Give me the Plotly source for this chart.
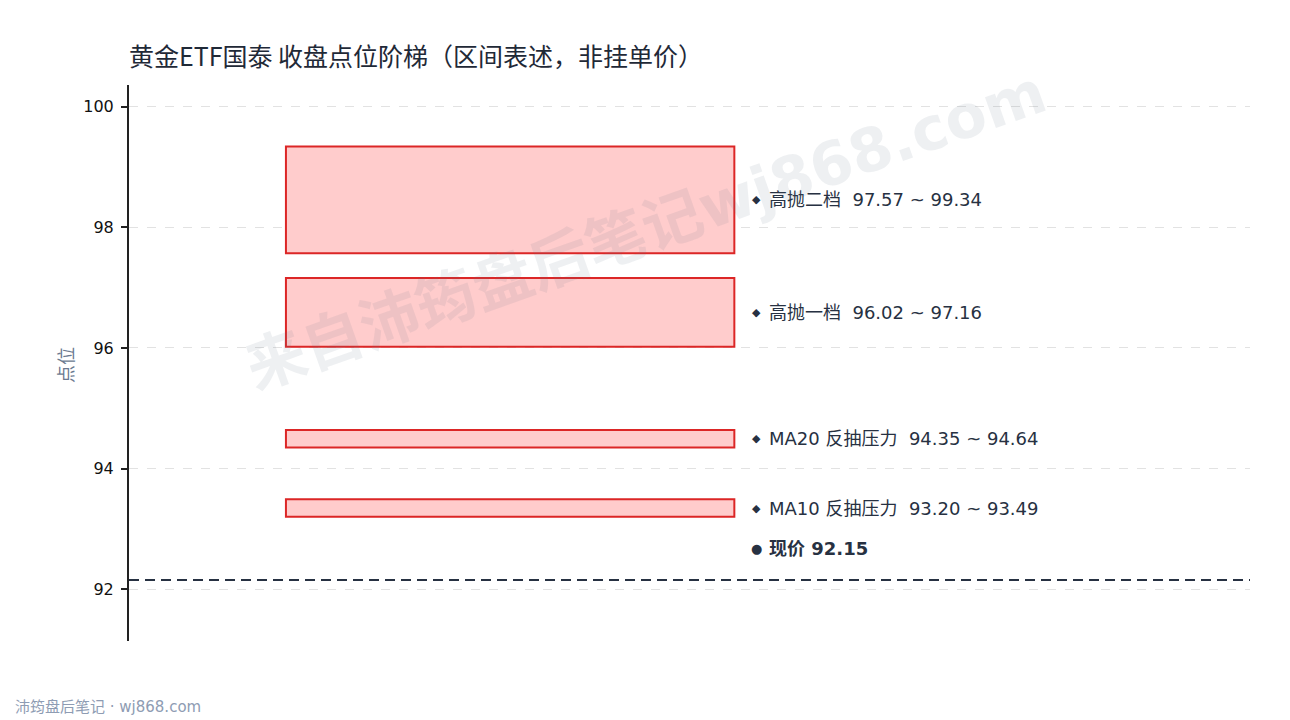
import plotly.graph_objects as go

# 区间阶梯数据
zone_names = ["高抛二档", "高抛一档", "MA20 反抽压力", "MA10 反抽压力"]
zone_low = [97.57, 96.02, 94.35, 93.20]
zone_high = [99.34, 97.16, 94.64, 93.49]
current_price = 92.15

y_ticks = [92, 94, 96, 98, 100]
y_range = [91.14, 100.36]

CJK = "Noto Sans CJK SC, DejaVu Sans, sans-serif"
LAT = "DejaVu Sans, Noto Sans CJK SC, sans-serif"
DARK = "#273142"

# the page body has an 8px margin, so the figure is drawn 8px smaller
W, H = 1282, 712
L, T, PW, PH = 121, 77, 1121, 556


def px_x(x):
    return (x - L) / PW


def px_y(y):
    return (T + PH - y) / PH


fig = go.Figure()

fig.add_trace(go.Bar(
    x=[0.34] * len(zone_names),
    y=[h - l for h, l in zip(zone_high, zone_low)],
    base=zone_low,
    width=0.40,
    marker=dict(color="#ffcccc", line=dict(color="#dc2626", width=2)),
    hoverinfo="skip",
    showlegend=False,
))

annotations = []
for name, lo, hi in zip(zone_names, zone_low, zone_high):
    mid = (lo + hi) / 2
    annotations.append(dict(
        x=0.5602, y=mid, xref="x", yref="y",
        xanchor="center", yanchor="middle", showarrow=False,
        text="◆", font=dict(family=LAT, size=11, color=DARK),
    ))
    annotations.append(dict(
        x=0.569, y=mid, xref="x", yref="y",
        xanchor="left", yanchor="middle", showarrow=False,
        text=f"{name}&nbsp; {lo:.2f} ~ {hi:.2f}",
        font=dict(family=LAT, size=18, color=DARK),
    ))

annotations.append(dict(
    x=0.5602, y=current_price, xref="x", yref="y", yshift=32,
    xanchor="center", yanchor="middle", showarrow=False,
    text="●", font=dict(family=LAT, size=13, color=DARK),
))
annotations.append(dict(
    x=0.569, y=current_price, xref="x", yref="y", yshift=32,
    xanchor="left", yanchor="middle", showarrow=False,
    text=f"<b>现价 {current_price:.2f}</b>",
    font=dict(family=LAT, size=18, color=DARK),
))

# 水印
annotations.append(dict(
    x=px_x(637), y=px_y(222), xref="paper", yref="paper",
    xanchor="center", yanchor="middle", showarrow=False,
    text="<b>来自沛筠盘后笔记wj868.com</b>", textangle=-19.5,
    font=dict(family=LAT, size=60, color="rgba(100,116,139,0.11)"),
))

# y轴标题
annotations.append(dict(
    x=px_x(57), y=px_y(357), xref="paper", yref="paper",
    xanchor="center", yanchor="middle", showarrow=False,
    text="点位", textangle=-90,
    font=dict(family=CJK, size=18, color="#6b7a90"),
))

# 页脚
annotations.append(dict(
    x=px_x(5), y=px_y(699), xref="paper", yref="paper",
    xanchor="left", yanchor="middle", showarrow=False,
    text="沛筠盘后笔记 · wj868.com",
    font=dict(family=LAT, size=15, color="#8e9cb3"),
))

fig.add_shape(
    type="line", xref="paper", yref="y",
    x0=0, x1=1, y0=current_price, y1=current_price,
    line=dict(color=DARK, width=2, dash="10px,6px"),
)

fig.update_layout(
    width=W, height=H,
    margin=dict(l=L, r=W - L - PW, t=T, b=H - T - PH),
    paper_bgcolor="white", plot_bgcolor="white",
    barmode="overlay",
    font=dict(family=LAT),
    title=dict(
        text="黄金ETF国泰 收盘点位阶梯（区间表述，非挂单价）",
        x=L / W, xanchor="left", y=1 - 49 / H, yanchor="middle",
        font=dict(family=CJK, size=25, color="#1f2937"),
    ),
    xaxis=dict(range=[0, 1], visible=False, fixedrange=True),
    yaxis=dict(
        range=y_range, tickvals=y_ticks,
        showline=True, linecolor="#222", linewidth=2,
        ticks="outside", ticklen=6, tickwidth=2, tickcolor="#222",
        ticklabelstandoff=4,
        tickfont=dict(family=LAT, size=16, color="#111"),
        showgrid=True, gridcolor="#e2e2e2", gridwidth=1, griddash="dash",
        zeroline=False,
    ),
    annotations=annotations,
)

fig.write_html("out.html")
